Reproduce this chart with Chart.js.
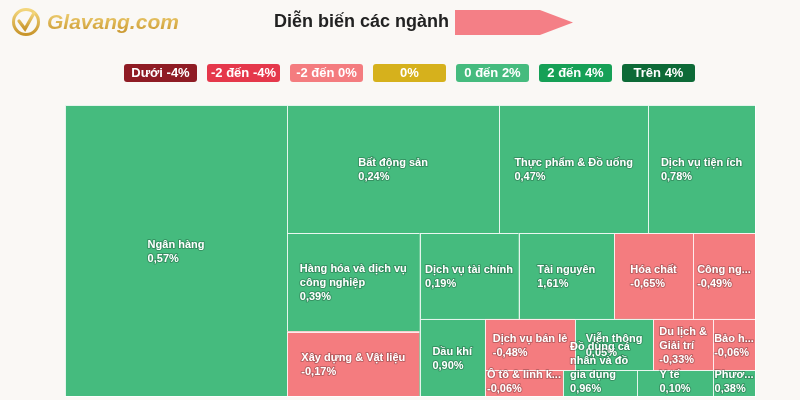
<!DOCTYPE html>
<html lang="vi">
<head>
<meta charset="utf-8">
<title>Diễn biến các ngành</title>
<script src="https://cdn.jsdelivr.net/npm/chart.js@4.4.1/dist/chart.umd.min.js"></script>
<style>
  html, body { margin: 0; padding: 0; background: #faf8f5; }
  .wrap { position: relative; width: 800px; height: 400px; overflow: hidden; }
  #chart { position: absolute; left: 0; top: 0; }
  .logo { position: absolute; left: 11px; top: 7px; display: flex; align-items: center; }
  .logo span {
    margin-left: 6px;
    font: italic bold 21px "Liberation Sans", Arial, sans-serif;
    background: linear-gradient(#f3d67c, #c8952b);
    -webkit-background-clip: text; background-clip: text; color: transparent;
  }
  .title { position: absolute; left: 274px; top: 11px; font: bold 18px "Liberation Sans", Arial, sans-serif; color: #222; }
  .mask { position: absolute; left: 455px; top: 10px; width: 118px; height: 25px; background: #f47f86;
    clip-path: polygon(0 0, 72% 0, 100% 50%, 72% 100%, 0 100%); }
  .legend { position: absolute; left: 124px; top: 64px; display: flex; gap: 10px; }
  .legend div { width: 73px; height: 18px; border-radius: 3px; color: #fff; text-align: center;
    font: bold 13px "Liberation Sans Narrow", "Liberation Sans", Arial, sans-serif; line-height: 18px; }
</style>
</head>
<body>
<div class="wrap">
  <canvas id="chart" width="800" height="400"></canvas>
  <div class="logo">
    <svg width="30" height="30" viewBox="0 0 30 30">
      <defs>
        <linearGradient id="gold" x1="0" y1="0" x2="0" y2="1">
          <stop offset="0" stop-color="#f3d67c"/>
          <stop offset="1" stop-color="#c8952b"/>
        </linearGradient>
      </defs>
      <circle cx="15" cy="15" r="12.5" fill="none" stroke="url(#gold)" stroke-width="3"/>
      <path d="M8 14 L14 22 L23 6" fill="none" stroke="url(#gold)" stroke-width="3.2" stroke-linecap="round"/>
    </svg>
    <span>Glavang.com</span>
  </div>
  <div class="title">Diễn biến các ngành</div>
  <div class="mask"></div>
  <div class="legend" id="legend"></div>
</div>
<script>
// sectors, their size weight and % change of the day
const sectors = ['Ngân hàng', 'Bất động sản', 'Thực phẩm & Đồ uống', 'Dịch vụ tiện ích',
    'Hàng hóa và dịch vụ công nghiệp', 'Xây dựng & Vật liệu', 'Dịch vụ tài chính', 'Tài nguyên',
    'Hóa chất', 'Công nghệ Thông tin', 'Dầu khí', 'Dịch vụ bán lẻ', 'Viễn thông', 'Du lịch & Giải trí',
    'Bảo hiểm', 'Ô tô & linh kiện', 'Đồ dùng cá nhân và đồ gia dụng', 'Y tế', 'Phương tiện truyền thông'];
const weights = [64.6, 27.2, 19.1, 13.7, 13.04, 8.52, 8.48, 8.18, 6.77, 5.31, 5.04, 4.64, 4.02, 3.09,
    2.16, 1.99, 1.89, 1.94, 1.07];
const changes = [0.57, 0.24, 0.47, 0.78, 0.39, -0.17, 0.19, 1.61, -0.65, -0.49, 0.90, -0.48, 0.05, -0.33,
    -0.06, -0.06, 0.96, 0.10, 0.38];

const legendLabels = ['Dưới -4%', '-2 đến -4%', '-2 đến 0%', '0%', '0 đến 2%', '2 đến 4%', 'Trên 4%'];
const palette = ['#8f1c24', '#e5384b', '#f47c7f', '#d6b11c', '#45bb7e', '#16a056', '#0d6a37'];

// labels that are cut with "..." instead of wrapped
const ellipsisLabels = ['Công nghệ Thông tin', 'Bảo hiểm', 'Ô tô & linh kiện', 'Phương tiện truyền thông'];

const legendBox = document.getElementById('legend');
legendLabels.forEach((txt, i) => {
    const d = document.createElement('div');
    d.textContent = txt;
    d.style.background = palette[i];
    legendBox.appendChild(d);
});

function colorFor(v) {
    if (v < -4) return palette[0];
    if (v < -2) return palette[1];
    if (v < 0) return palette[2];
    if (v === 0) return palette[3];
    if (v <= 2) return palette[4];
    if (v <= 4) return palette[5];
    return palette[6];
}

// squarified layout, rows alternate between a column on the left and a row on top
function squarify(vals, W, H) {
    const total = vals.reduce((a, b) => a + b, 0);
    const areas = vals.map(v => v / total * W * H);
    const rects = [];
    let x0 = 0, y0 = 0, w = W, h = H, dir = 0, row = [];
    const ratio = (a, b) => Math.max(a / b, b / a);
    const sum = arr => arr.reduce((a, b) => a + b, 0);

    function flush() {
        const s = sum(row);
        if (dir === 0) {
            const t = s / h;
            let y = y0;
            row.forEach(a => { rects.push({ x: x0, y: y, w: t, h: a / t }); y += a / t; });
            x0 += t; w -= t;
        } else {
            const t = s / w;
            let x = x0;
            row.forEach(a => { rects.push({ x: x, y: y0, w: a / t, h: t }); x += a / t; });
            y0 += t; h -= t;
        }
        row = [];
        dir = 1 - dir;
    }

    areas.forEach(a => {
        if (row.length) {
            const side = dir === 0 ? h : w;
            const last = row[row.length - 1];
            const oldT = sum(row) / side, newT = (sum(row) + a) / side;
            if (ratio(newT, last / newT) > ratio(oldT, last / oldT)) flush();
        }
        row.push(a);
    });
    flush();
    return rects;
}

function fmt(v) {
    return v.toFixed(2).replace('.', ',') + '%';
}

function wrapText(ctx, text, maxW) {
    const words = text.split(' ');
    const lines = [];
    let line = '';
    words.forEach(word => {
        const test = line ? line + ' ' + word : word;
        if (line && ctx.measureText(test).width > maxW) {
            lines.push(line);
            line = word;
        } else {
            line = test;
        }
    });
    if (line) lines.push(line);
    return lines;
}

function cutText(ctx, text, maxW) {
    if (ctx.measureText(text).width <= maxW) return text;
    let s = text;
    while (s.length > 1 && ctx.measureText(s + '...').width > maxW) s = s.slice(0, -1);
    return s + '...';
}

const treemapPlugin = {
    id: 'treemapCells',
    afterDatasetsDraw(chart) {
        const ctx = chart.ctx;
        const area = chart.chartArea;
        const xs = chart.scales.x, ys = chart.scales.y;
        const k = area.width / area.height;
        const cells = squarify(weights, 100 * k, 100);

        ctx.save();
        cells.forEach((c, i) => {
            const left = xs.getPixelForValue(c.x / k);
            const right = xs.getPixelForValue((c.x + c.w) / k);
            const top = ys.getPixelForValue(c.y);
            const bottom = ys.getPixelForValue(c.y + c.h);
            ctx.fillStyle = colorFor(changes[i]);
            ctx.fillRect(left, top, right - left, bottom - top);
            ctx.strokeStyle = 'rgba(255,255,255,0.85)';
            ctx.lineWidth = 1;
            ctx.strokeRect(Math.round(left) + 0.5, Math.round(top) + 0.5, Math.round(right - left), Math.round(bottom - top));
        });

        ctx.font = 'bold 11px "Liberation Sans", Arial, sans-serif';
        ctx.textBaseline = 'middle';
        ctx.textAlign = 'left';
        ctx.lineJoin = 'round';
        const lh = 14;
        cells.forEach((c, i) => {
            const left = xs.getPixelForValue(c.x / k);
            const right = xs.getPixelForValue((c.x + c.w) / k);
            const top = ys.getPixelForValue(c.y);
            const bottom = ys.getPixelForValue(c.y + c.h);
            const cw = right - left;
            let lines;
            if (ellipsisLabels.includes(sectors[i])) lines = [cutText(ctx, sectors[i], cw - 2)];
            else lines = wrapText(ctx, sectors[i], cw - 4);
            lines.push(fmt(changes[i]));
            const blockW = Math.max(...lines.map(l => ctx.measureText(l).width));
            const blockH = lines.length * lh;
            let ty = (top + bottom) / 2 - blockH / 2 + 1;
            if (ty + blockH > area.bottom) ty = area.bottom - blockH;
            let tx = (left + right) / 2 - blockW / 2;
            if (tx + blockW > area.right) tx = area.right - blockW;
            if (tx < left + 1) tx = left + 1;
            lines.forEach((l, j) => {
                const y = ty + lh * j + lh / 2;
                ctx.strokeStyle = 'rgba(0,0,0,0.22)';
                ctx.lineWidth = 2;
                ctx.strokeText(l, tx, y);
                ctx.fillStyle = '#ffffff';
                ctx.fillText(l, tx, y);
            });
        });
        ctx.restore();
    }
};

new Chart(document.getElementById('chart').getContext('2d'), {
    type: 'scatter',
    data: { datasets: [{ label: 'Ngành', data: [] }] },
    options: {
        responsive: false,
        animation: false,
        layout: { padding: { left: 65, right: 45, top: 105, bottom: 4 } },
        plugins: { legend: { display: false }, tooltip: { enabled: false } },
        scales: {
            x: { type: 'linear', min: 0, max: 100, display: false },
            y: { type: 'linear', min: 0, max: 100, reverse: true, display: false }
        }
    },
    plugins: [treemapPlugin]
});
</script>
</body>
</html>
